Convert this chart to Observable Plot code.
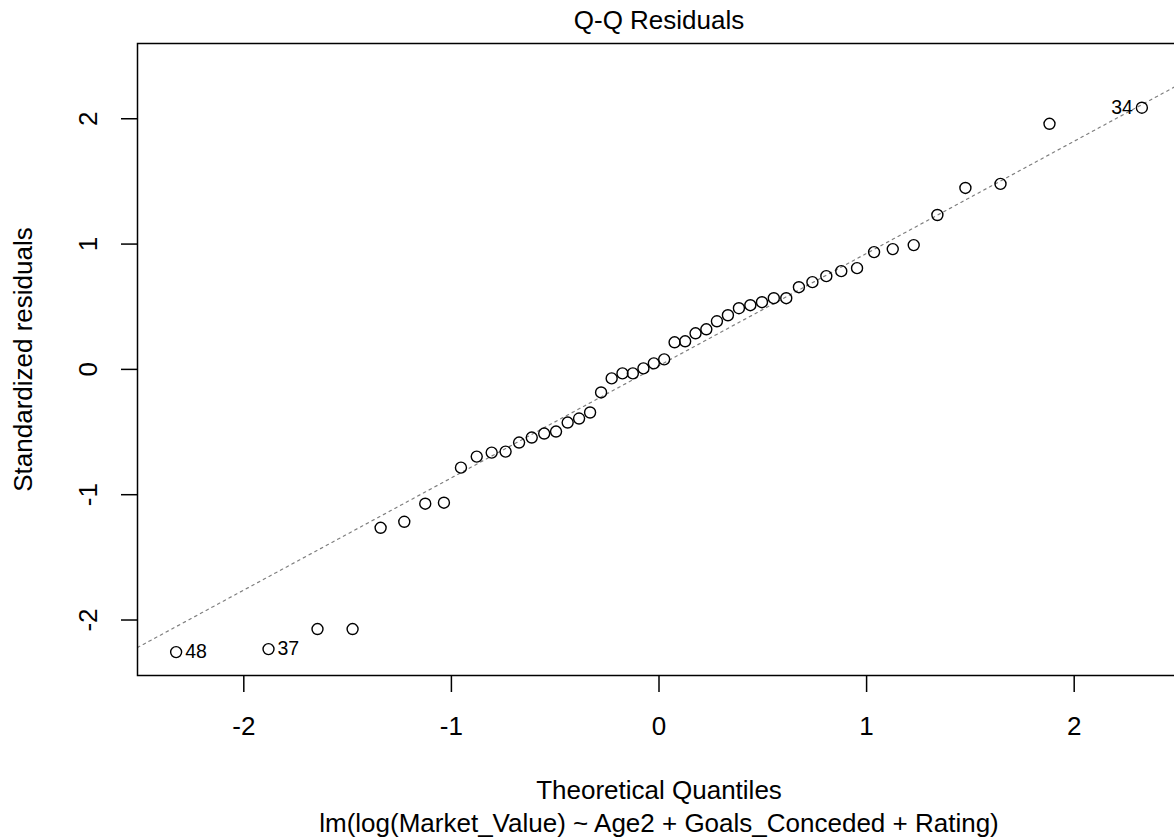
<!DOCTYPE html>
<html>
<head>
<meta charset="utf-8">
<script src="https://cdn.jsdelivr.net/npm/d3@7"></script>
<script src="https://cdn.jsdelivr.net/npm/@observablehq/plot@0.6"></script>
<style>
  html, body { margin: 0; padding: 0; background: #fff; overflow: hidden; }
  #chart { width: 1174px; height: 840px; overflow: hidden; }
</style>
</head>
<body>
<div id="chart"></div>
<script>
// Theoretical quantiles (x)
const theoretical = [
  -2.326, -1.881, -1.645, -1.476, -1.341, -1.227, -1.126, -1.036, -0.954, -0.878,
  -0.806, -0.739, -0.674, -0.613, -0.553, -0.496, -0.440, -0.385, -0.332, -0.279,
  -0.228, -0.176, -0.126, -0.075, -0.025, 0.025, 0.075, 0.126, 0.176, 0.228,
  0.279, 0.332, 0.385, 0.440, 0.496, 0.553, 0.613, 0.674, 0.739, 0.806,
  0.878, 0.954, 1.036, 1.126, 1.227, 1.341, 1.476, 1.645, 1.881, 2.326
];
// Standardized residuals (y)
const residuals = [
  -2.256, -2.232, -2.072, -2.072, -1.264, -1.216, -1.072, -1.064, -0.784, -0.696,
  -0.664, -0.656, -0.584, -0.544, -0.512, -0.496, -0.424, -0.392, -0.344, -0.184,
  -0.072, -0.032, -0.032, 0.008, 0.048, 0.080, 0.216, 0.224, 0.288, 0.320,
  0.384, 0.432, 0.488, 0.512, 0.536, 0.568, 0.568, 0.656, 0.696, 0.744,
  0.784, 0.808, 0.936, 0.960, 0.992, 1.232, 1.448, 1.480, 1.960, 2.088
];
// Labelled observations (index into the arrays above, observation id)
const labelIndex = [0, 1, 49];
const labelText = ["48", "37", "34"];
const xTicks = [-2, -1, 0, 1, 2];
const yTicks = [-2, -1, 0, 1, 2];
const titleText = "Q-Q Residuals";
const xLabel = "Theoretical Quantiles";
const subLabel = "lm(log(Market_Value) ~ Age2 + Goals_Conceded + Rating)";
const yLabel = "Standardized residuals";

const points = theoretical.map((x, i) => ({x, y: residuals[i]}));
const labels = labelIndex.map((i, k) => ({x: theoretical[i], y: residuals[i], text: labelText[k], side: theoretical[i] > 0 ? "left" : "right"}));

// R-style axis limits
const [x0, x1] = d3.extent(theoretical);
const xPad = (x1 - x0) * 0.04;
const xDomain = [x0 - xPad, x1 + xPad];
let [y0, y1] = d3.extent(residuals);
y1 = y1 + (y1 - y0) * 0.075;
const yPad = (y1 - y0) * 0.04;
const yDomain = [y0 - yPad, y1 + yPad];

// qqline through the quartiles
const sorted = residuals.slice().sort(d3.ascending);
const q1 = d3.quantileSorted(sorted, 0.25), q3 = d3.quantileSorted(sorted, 0.75);
const zq = 0.6744897501960817;
const slope = (q3 - q1) / (2 * zq);
const intercept = q1 + slope * zq;
const lineData = xDomain.map(x => ({x, y: intercept + slope * x}));

const font = "'Liberation Sans', Arial, Helvetica, sans-serif";

const chart = Plot.plot({
  width: 1174,
  height: 840,
  marginLeft: 137,
  marginRight: -6,
  marginTop: 43,
  marginBottom: 165,
  style: {fontFamily: font, background: "#fff", color: "#000", overflow: "hidden"},
  x: {domain: xDomain},
  y: {domain: yDomain},
  marks: [
    Plot.line(lineData, {x: "x", y: "y", stroke: "#7f7f7f", strokeWidth: 1.2, strokeDasharray: "2.5,4", clip: true}),
    Plot.dot(points, {x: "x", y: "y", r: 5.5, stroke: "#000", strokeWidth: 1.4, fill: "none"}),
    Plot.text(labels.filter(d => d.side === "right"), {x: "x", y: "y", text: "text", dx: 9, textAnchor: "start", lineAnchor: "middle", fontSize: 19.5, fill: "#000"}),
    Plot.text(labels.filter(d => d.side === "left"), {x: "x", y: "y", text: "text", dx: -9, textAnchor: "end", lineAnchor: "middle", fontSize: 19.5, fill: "#000"}),
    Plot.frame({stroke: "#000", strokeWidth: 1.5}),
    Plot.axisX({ticks: xTicks, tickSize: 17, tickPadding: 24, tickFormat: d => String(d), fontSize: 26, label: null, stroke: "#000", strokeWidth: 1.5}),
    Plot.axisY({ticks: yTicks, tickSize: 16, tickFormat: () => "", label: null, stroke: "#000", strokeWidth: 1.5}),
    Plot.text(yTicks, {y: d => d, text: d => String(d), frameAnchor: "left", dx: -49, rotate: -90, textAnchor: "middle", lineAnchor: "middle", fontSize: 26, fill: "#000"}),
    Plot.text([yLabel], {frameAnchor: "left", dx: -114, rotate: -90, textAnchor: "middle", lineAnchor: "middle", fontSize: 26, fill: "#000"}),
    Plot.text([titleText], {frameAnchor: "top", dy: -23, textAnchor: "middle", lineAnchor: "middle", fontSize: 26, fill: "#000"}),
    Plot.text([xLabel], {frameAnchor: "bottom", dy: 115, textAnchor: "middle", lineAnchor: "middle", fontSize: 26, fill: "#000"}),
    Plot.text([subLabel], {frameAnchor: "bottom", dy: 148, textAnchor: "middle", lineAnchor: "middle", fontSize: 26, fill: "#000"})
  ]
});
document.getElementById("chart").appendChild(chart);
</script>
</body>
</html>
